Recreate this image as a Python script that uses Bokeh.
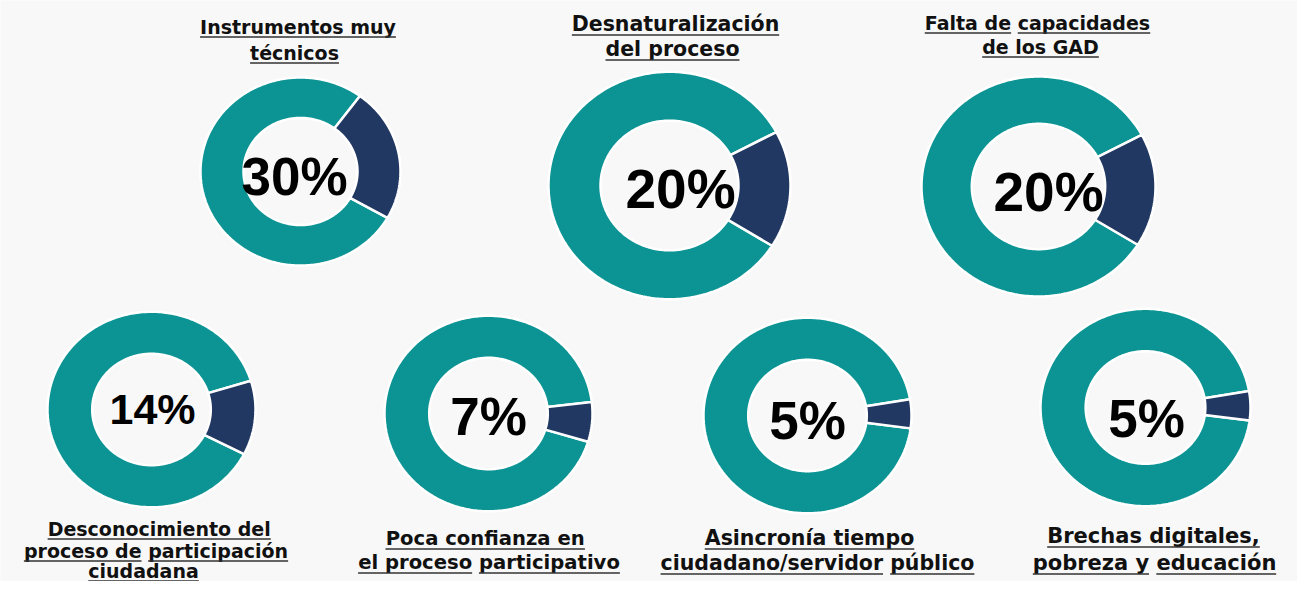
import numpy as np
from bokeh.plotting import figure
from bokeh.models import Range1d, ColumnDataSource
from bokeh.core.properties import value
from bokeh.embed import file_html
from bokeh.resources import INLINE

# ---------------- data ----------------
categories = [
    "Instrumentos muy técnicos",
    "Desnaturalización del proceso",
    "Falta de capacidades de los GAD",
    "Desconocimiento del proceso de participación ciudadana",
    "Poca confianza en el proceso participativo",
    "Asincronía tiempo ciudadano/servidor público",
    "Brechas digitales, pobreza y educación",
]
# line breaks; "|" marks where the underline is interrupted
label_lines = [
    ["Instrumentos muy", "técnicos"],
    ["Desnaturalización", "del proceso"],
    ["Falta de|capacidades", "de los GAD"],
    ["Desconocimiento del", "proceso de|participación", "ciudadana"],
    ["Poca confianza en", "el proceso|participativo"],
    ["Asincronía tiempo", "ciudadano/servidor|público"],
    ["Brechas digitales,", "pobreza y|educación"],
]
pct_values = [30, 20, 20, 14, 7, 5, 5]
base_values = [100, 100, 100, 100, 100, 100, 100]
pct_labels = ["30%", "20%", "20%", "14%", "7%", "5%", "5%"]

# ---------------- layout / style ----------------
TEAL = "#0c9494"
NAVY = "#213863"
W, H = 1297, 581
centers = [(300, 171), (669, 185), (1038, 186), (151, 409), (488, 413), (807, 415), (1145, 407)]
radius_x = [100, 121, 117, 104, 104, 104, 105]
y_squash = 0.94
inner_ratio = 0.57
rotation = [12, -2, -2, -5, -5, 1, 1]
pct_pos = [(294, 176), (680, 188), (1048, 191), (152, 408), (488, 416), (807, 420), (1146, 418)]
pct_fs = [53, 55, 55, 43, 53, 53, 53]
label_fs = [19, 20.5, 19, 19, 19.6, 20.5, 21]
label_x = [[297.5, 294], [675, 672], [1037, 1040], [158.7, 155.5, 143],
           [484.7, 488.5], [809, 817], [1153, 1154]]
label_base = [[33, 59], [31, 56], [29, 53], [535, 557, 577], [545, 569], [545, 570], [543, 570]]

# approx advance widths of DejaVu Sans Bold (per 1000 em)
CW = {" ": 348, ",": 381, "/": 365, "A": 774, "B": 762, "D": 830, "F": 632, "G": 821,
      "I": 372, "P": 733, "a": 675, "á": 675, "b": 716, "c": 593, "d": 716, "e": 678,
      "é": 678, "f": 435, "g": 716, "h": 712, "i": 343, "í": 343, "l": 343, "m": 1042,
      "n": 712, "o": 687, "ó": 687, "p": 716, "r": 493, "s": 595, "t": 478, "u": 712,
      "ú": 712, "v": 652, "y": 652, "z": 568}


def tw(s, fs):
    return sum(CW.get(c, 620) for c in s) / 1000.0 * fs


p = figure(width=W, height=H, output_backend="svg", toolbar_location=None,
           x_range=Range1d(0, W), y_range=Range1d(H, 0),
           min_border=0, outline_line_color=None)
p.axis.visible = False
p.grid.visible = False
p.background_fill_color = "#f8f8f8"
p.border_fill_color = "#f8f8f8"

# ---- donut slices ----
xs, ys, cols = [], [], []


def sector(cx, cy, rx, ry, a0, a1):
    n = max(6, int(abs(a1 - a0)) + 2)
    t = np.radians(np.linspace(a0, a1, n))
    xo = cx + rx * np.cos(t)
    yo = cy - ry * np.sin(t)
    xi = cx + rx * inner_ratio * np.cos(t[::-1])
    yi = cy - ry * inner_ratio * np.sin(t[::-1])
    return list(np.concatenate([xo, xi])), list(np.concatenate([yo, yi]))


for i, (v, b) in enumerate(zip(pct_values, base_values)):
    cx, cy = centers[i]
    rx = radius_x[i]
    ry = rx * y_squash
    span = 360.0 * v / (v + b)
    a0 = rotation[i] - span / 2
    a1 = rotation[i] + span / 2
    x1, y1 = sector(cx, cy, rx, ry, a1, a0 + 360)
    xs.append(x1); ys.append(y1); cols.append(TEAL)
    x2, y2 = sector(cx, cy, rx, ry, a0, a1)
    xs.append(x2); ys.append(y2); cols.append(NAVY)

p.patches(xs="xs", ys="ys", fill_color="c", line_color="white", line_width=2.5,
          source=ColumnDataSource(dict(xs=xs, ys=ys, c=cols)))

# ---- percentage texts ----
pct_src = ColumnDataSource(dict(
    x=[q[0] for q in pct_pos],
    y=[q[1] for q in pct_pos],
    t=pct_labels,
    fs=["%dpx" % f for f in pct_fs]))
p.text(x="x", y="y", text="t", source=pct_src, text_font=value("Liberation Sans"),
       text_font_style="bold", text_font_size="fs", text_color="#000000",
       text_align="center", text_baseline="middle")

# ---- category labels with underlines ----
lx, ly, lt, lf = [], [], [], []
ux0, ux1, uy = [], [], []
for i, lines in enumerate(label_lines):
    fs = label_fs[i]
    for j, line in enumerate(lines):
        parts = line.split("|")
        full = " ".join(parts)
        cx = label_x[i][j]
        base = label_base[i][j]
        lx.append(cx); ly.append(base - 0.36 * fs); lt.append(full); lf.append("%.1fpx" % fs)
        start = cx - tw(full, fs) / 2
        off = 0.0
        for k, part in enumerate(parts):
            w = tw(part, fs)
            ux0.append(start + off); ux1.append(start + off + w); uy.append(base + 3.5)
            off += w + tw(" ", fs)

p.text(x="x", y="y", text="t", source=ColumnDataSource(dict(x=lx, y=ly, t=lt, fs=lf)),
       text_font=value("DejaVu Sans"), text_font_style="bold", text_font_size="fs",
       text_color="#111111", text_align="center", text_baseline="middle")
p.segment(x0="x0", y0="y", x1="x1", y1="y",
          source=ColumnDataSource(dict(x0=ux0, x1=ux1, y=uy)),
          line_color="#333333", line_width=1.6)

open("out.html", "w").write(file_html(p, INLINE))
